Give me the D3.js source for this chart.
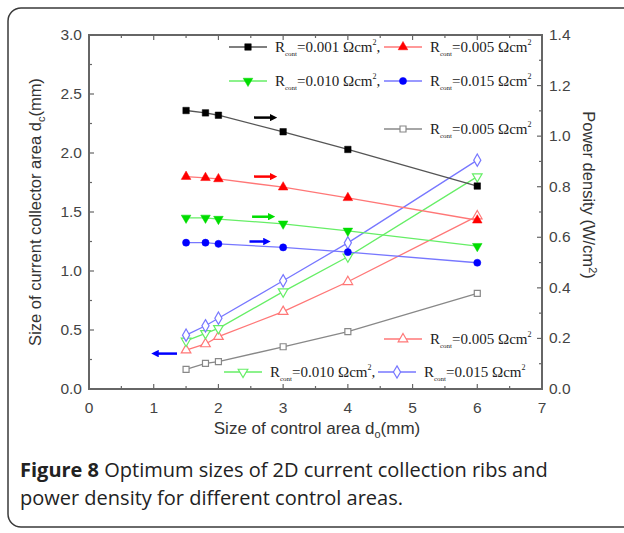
<!DOCTYPE html>
<html>
<head>
<meta charset="utf-8">
<script src="https://cdn.jsdelivr.net/npm/d3@7"></script>
<style>
  html, body { margin: 0; padding: 0; background: #fff; }
  svg { display: block; }
</style>
</head>
<body>
<script>
'use strict';

// control area sizes d_o (mm)
var controlSizes = [1.5, 1.8, 2.0, 3.0, 4.0, 6.0];

// optimum current collector size d_c (mm), left axis
var dc001 = [2.36, 2.34, 2.32, 2.18, 2.03, 1.72];
var dc005 = [1.80, 1.79, 1.78, 1.71, 1.62, 1.43];
var dc010 = [1.45, 1.45, 1.44, 1.40, 1.34, 1.21];
var dc015 = [1.24, 1.24, 1.23, 1.20, 1.16, 1.07];

// power density (W/cm2), right axis
var pd001 = [0.078, 0.101, 0.108, 0.167, 0.227, 0.378];
var pd005 = [0.154, 0.178, 0.207, 0.306, 0.424, 0.684];
var pd010 = [0.19, 0.22, 0.24, 0.385, 0.523, 0.84];
var pd015 = [0.213, 0.25, 0.28, 0.428, 0.578, 0.905];

var xTicks = [0, 1, 2, 3, 4, 5, 6, 7];
var leftTicks = [0, 0.5, 1.0, 1.5, 2.0, 2.5, 3.0];
var rightTicks = [0, 0.2, 0.4, 0.6, 0.8, 1.0, 1.2, 1.4];

var W = 624, H = 533;
var svg = d3.select("body").append("svg").attr("width", W).attr("height", H);

// card border (right side runs off the page)
svg.append("rect")
  .attr("x", 8).attr("y", 8).attr("width", 640).attr("height", 519)
  .attr("rx", 13).attr("ry", 13)
  .attr("fill", "none").attr("stroke", "#3a3a3a").attr("stroke-width", 1.5);

var x = d3.scaleLinear().domain([0, 7]).range([89, 542]);
var yL = d3.scaleLinear().domain([0, 3]).range([389, 35]);
var yR = d3.scaleLinear().domain([0, 1.4]).range([389, 35]);

var axisColor = "#666";
var labelFont = "Liberation Sans, Arial, sans-serif";

// frame
svg.append("rect")
  .attr("x", x(0)).attr("y", yL(3))
  .attr("width", x(7) - x(0)).attr("height", yL(0) - yL(3))
  .attr("fill", "none").attr("stroke", axisColor).attr("stroke-width", 2);

// ticks (inward)
function minorTicks(lo, hi, step) {
  var out = [];
  for (var v = lo; v <= hi + 1e-9; v += step) out.push(+v.toFixed(4));
  return out;
}
var ticks = svg.append("g").attr("stroke", axisColor).attr("stroke-width", 1.2);
minorTicks(0, 7, 0.5).forEach(function(v) {
  var len = (Math.abs(v - Math.round(v)) < 1e-6) ? 5 : 3;
  ticks.append("line").attr("x1", x(v)).attr("x2", x(v)).attr("y1", yL(0)).attr("y2", yL(0) - len);
  ticks.append("line").attr("x1", x(v)).attr("x2", x(v)).attr("y1", yL(3)).attr("y2", yL(3) + len);
});
minorTicks(0, 3, 0.25).forEach(function(v) {
  var len = (Math.abs(v * 2 - Math.round(v * 2)) < 1e-6) ? 5 : 3;
  ticks.append("line").attr("x1", x(0)).attr("x2", x(0) + len).attr("y1", yL(v)).attr("y2", yL(v));
});
minorTicks(0, 1.4, 0.1).forEach(function(v) {
  var len = (Math.abs(v * 5 - Math.round(v * 5)) < 1e-6) ? 5 : 3;
  ticks.append("line").attr("x1", x(7)).attr("x2", x(7) - len).attr("y1", yR(v)).attr("y2", yR(v));
});

// tick labels
svg.append("g").selectAll("text").data(xTicks).enter().append("text")
  .attr("x", function(d) { return x(d); })
  .attr("y", 413)
  .attr("text-anchor", "middle")
  .attr("font-family", labelFont).attr("font-size", 15.5).attr("fill", "#444")
  .text(function(d) { return d; });
svg.append("g").selectAll("text").data(leftTicks).enter().append("text")
  .attr("x", 82)
  .attr("y", function(d) { return yL(d) + 5; })
  .attr("text-anchor", "end")
  .attr("font-family", labelFont).attr("font-size", 15.5).attr("fill", "#444")
  .text(function(d) { return d.toFixed(1); });
svg.append("g").selectAll("text").data(rightTicks).enter().append("text")
  .attr("x", 549)
  .attr("y", function(d) { return yR(d) + 5; })
  .attr("text-anchor", "start")
  .attr("font-family", labelFont).attr("font-size", 15.5).attr("fill", "#444")
  .text(function(d) { return d.toFixed(1); });

// axis titles
var xt = svg.append("text")
  .attr("x", 317).attr("y", 434).attr("text-anchor", "middle")
  .attr("font-family", labelFont).attr("font-size", 17).attr("fill", "#333");
xt.append("tspan").text("Size of control area d");
xt.append("tspan").attr("font-size", 11).attr("dy", 4).text("o");
xt.append("tspan").attr("dy", -4).text("(mm)");

var lt = svg.append("text")
  .attr("transform", "translate(41,212) rotate(-90)").attr("text-anchor", "middle")
  .attr("font-family", labelFont).attr("font-size", 16.5).attr("fill", "#333");
lt.append("tspan").text("Size of current collector area d");
lt.append("tspan").attr("font-size", 11).attr("dy", 4).text("c");
lt.append("tspan").attr("dy", -4).text("(mm)");

var rt = svg.append("text")
  .attr("transform", "translate(583,195) rotate(90)").attr("text-anchor", "middle")
  .attr("font-family", labelFont).attr("font-size", 16.5).attr("fill", "#333");
rt.append("tspan").text("Power density (W/cm");
rt.append("tspan").attr("font-size", 11).attr("dy", -6).text("2");
rt.append("tspan").attr("dy", 6).text(")");

// series
var solidSeries = [
  { values: dc001, line: "#555", fill: "#000", sym: d3.symbolSquare, rot: 0, size: 42 },
  { values: dc005, line: "#f77", fill: "#f00", sym: d3.symbolTriangle, rot: 0, size: 40 },
  { values: dc010, line: "#6e6", fill: "#0d0", sym: d3.symbolTriangle, rot: 180, size: 40 },
  { values: dc015, line: "#77f", fill: "#00f", sym: d3.symbolCircle, rot: 0, size: 40 }
];
var openSeries = [
  { values: pd001, line: "#888", sym: d3.symbolSquare, rot: 0, size: 36 },
  { values: pd005, line: "#f77", sym: d3.symbolTriangle, rot: 0, size: 40 },
  { values: pd010, line: "#6e6", sym: d3.symbolTriangle, rot: 180, size: 40 },
  { values: pd015, line: "#77f", sym: d3.symbolDiamond, rot: 0, size: 44 }
];

var plot = svg.append("g");

function drawSeries(s, yScale, open) {
  var pts = controlSizes.map(function(c, i) { return [c, s.values[i]]; });
  plot.append("path").datum(pts)
    .attr("fill", "none").attr("stroke", s.line).attr("stroke-width", 1.3)
    .attr("d", d3.line().x(function(d) { return x(d[0]); }).y(function(d) { return yScale(d[1]); }));
  plot.append("g").selectAll("path").data(pts).enter().append("path")
    .attr("transform", function(d) {
      return "translate(" + x(d[0]) + "," + yScale(d[1]) + ") rotate(" + s.rot + ")";
    })
    .attr("d", d3.symbol().type(s.sym).size(s.size))
    .attr("fill", open ? "#fff" : s.fill)
    .attr("stroke", open ? s.line : s.fill)
    .attr("stroke-width", open ? 1.2 : 0.5);
}
openSeries.forEach(function(s) { drawSeries(s, yR, true); });
solidSeries.forEach(function(s) { drawSeries(s, yL, false); });

// arrows pointing to the axes
var defs = svg.append("defs");
[["#000", "ahBlack"], ["#f00", "ahRed"], ["#0d0", "ahGreen"], ["#00f", "ahBlue"]].forEach(function(m) {
  defs.append("marker").attr("id", m[1])
    .attr("viewBox", "0 0 10 10").attr("refX", 5).attr("refY", 5)
    .attr("markerWidth", 3).attr("markerHeight", 3).attr("orient", "auto")
    .append("path").attr("d", "M0,0 L10,5 L0,10 z").attr("fill", m[0]);
});
var arrows = [
  { x0: 2.55, x1: 2.85, y: 2.30, color: "#000", m: "ahBlack" },
  { x0: 2.55, x1: 2.85, y: 1.80, color: "#f00", m: "ahRed" },
  { x0: 2.52, x1: 2.82, y: 1.46, color: "#0d0", m: "ahGreen" },
  { x0: 2.48, x1: 2.75, y: 1.25, color: "#00f", m: "ahBlue" },
  { x0: 1.36, x1: 1.02, y: 0.30, color: "#00f", m: "ahBlue" }
];
arrows.forEach(function(a) {
  svg.append("line")
    .attr("x1", x(a.x0)).attr("x2", x(a.x1)).attr("y1", yL(a.y)).attr("y2", yL(a.y))
    .attr("stroke", a.color).attr("stroke-width", 2.5)
    .attr("marker-end", "url(#" + a.m + ")");
});

// legend entries
var legendFont = "Liberation Serif, Times New Roman, serif";
function legendEntry(lx, ly, s, open, label, comma) {
  var g = svg.append("g");
  g.append("line").attr("x1", lx).attr("x2", lx + 38).attr("y1", ly).attr("y2", ly)
    .attr("stroke", s.line).attr("stroke-width", 1.3);
  g.append("path")
    .attr("transform", "translate(" + (lx + 19) + "," + ly + ") rotate(" + s.rot + ")")
    .attr("d", d3.symbol().type(s.sym).size(s.size))
    .attr("fill", open ? "#fff" : s.fill)
    .attr("stroke", open ? s.line : s.fill).attr("stroke-width", open ? 1.2 : 0.5);
  var t = g.append("text").attr("x", lx + 46).attr("y", ly + 5)
    .attr("font-family", legendFont).attr("font-size", 15).attr("fill", "#222");
  t.append("tspan").text("R");
  t.append("tspan").attr("font-size", 7).attr("dy", 4).text("cont");
  t.append("tspan").attr("dy", -4).text("=" + label + " \u03A9cm");
  t.append("tspan").attr("font-size", 8).attr("dy", -7).text("2");
  if (comma) t.append("tspan").attr("dy", 7).text(",");
}
legendEntry(229, 47, solidSeries[0], false, "0.001", true);
legendEntry(384, 47, solidSeries[1], false, "0.005", false);
legendEntry(229, 81, solidSeries[2], false, "0.010", true);
legendEntry(384, 81, solidSeries[3], false, "0.015", false);
legendEntry(384, 129, openSeries[0], true, "0.005", false);
legendEntry(384, 339, openSeries[1], true, "0.005", false);
legendEntry(224, 372, openSeries[2], true, "0.010", true);
legendEntry(378, 372, openSeries[3], true, "0.015", false);

// caption
var capFont = "Open Sans, Noto Sans, sans-serif";
var cap = svg.append("text").attr("x", 20).attr("y", 477)
  .attr("font-family", capFont).attr("font-size", 20).attr("fill", "#222");
cap.append("tspan").attr("font-weight", "bold").text("Figure 8");
cap.append("tspan").text(" Optimum sizes of 2D current collection ribs and");
svg.append("text").attr("x", 20).attr("y", 505)
  .attr("font-family", capFont).attr("font-size", 20).attr("fill", "#222")
  .text("power density for different control areas.");
</script>
</body>
</html>
